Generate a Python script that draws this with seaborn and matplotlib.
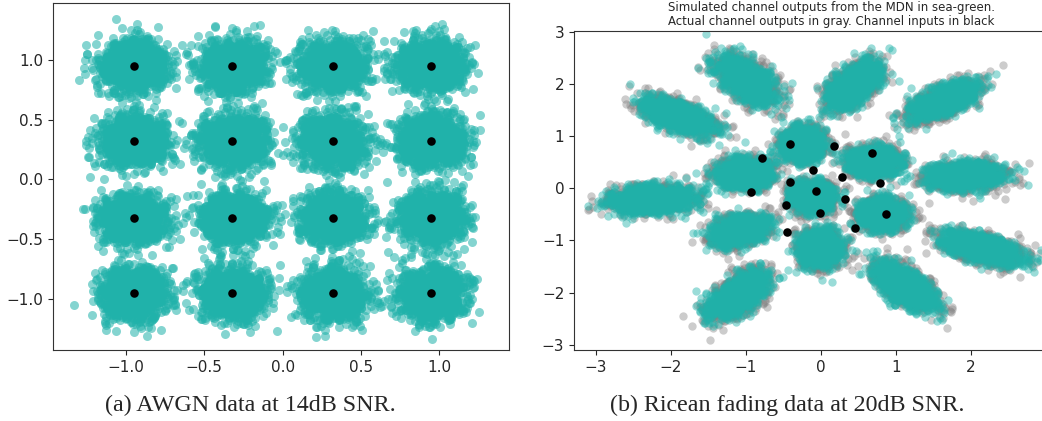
import numpy as np
import pandas as pd
import matplotlib
matplotlib.use("Agg")
import matplotlib.pyplot as plt
import seaborn as sns

sns.set_style("ticks")
plt.rcParams['font.family'] = ['DejaVu Sans']

# --- (a) AWGN, 16-QAM symbols and noise spread ---
qam_levels = [-0.95, -0.32, 0.32, 0.95]
awgn_sigma = 0.105
awgn_points_per_symbol = 1100

# --- (b) Ricean fading: channel inputs (black dots) ---
input_x = [-0.41, 0.18, -0.79, 0.68, -0.10, 0.28, -0.41, 0.79,
           -0.93, -0.06, 0.32, -0.47, -0.01, 0.87, -0.45, 0.45]
input_y = [0.85, 0.80, 0.57, 0.67, 0.35, 0.22, 0.12, 0.10,
           -0.08, -0.06, -0.20, -0.32, -0.47, -0.50, -0.84, -0.77]

# output clusters: centre, extent along major / minor axis, tilt (deg)
cluster_cx = [-2.24, -1.92, -0.99, 0.43, 1.65, 1.92, 2.14, 1.12, -1.10,
              -0.24, 0.70, -1.01, -0.12, 0.81, -1.10, -0.01]
cluster_cy = [-0.21, 1.40, 2.07, 1.98, 1.69, 0.24, -1.15, -1.87, -2.04,
              0.86, 0.51, 0.29, -0.16, -0.48, -0.80, -1.15]
cluster_major = [1.29, 1.22, 1.22, 1.17, 1.19, 1.11, 1.27, 1.22, 1.22,
                 0.72, 0.76, 0.80, 0.65, 0.72, 0.87, 0.80]
cluster_minor = [0.60, 0.56, 0.64, 0.60, 0.54, 0.60, 0.58, 0.60, 0.60,
                 0.62, 0.64, 0.64, 0.64, 0.64, 0.60, 0.62]
cluster_angle = [4, -32, -54, 58, 36, 4, -22, -49, 52,
                 90, 0, 5, 90, -5, 26, 90]
ricean_points_per_cluster = 1000

caption_a = "(a) AWGN data at 14dB SNR."
caption_b = "(b) Ricean fading data at 20dB SNR."
title_b = ("Simulated channel outputs from the MDN in sea-green.\n"
           "Actual channel outputs in gray. Channel inputs in black")

# noise clouds around the read-off centres (fixed seed)
rng = np.random.default_rng(3)

sym = [(x, y) for y in qam_levels[::-1] for x in qam_levels]
awgn = pd.DataFrame({
    'x': np.concatenate([np.full(awgn_points_per_symbol, sx) for sx, sy in sym]),
    'y': np.concatenate([np.full(awgn_points_per_symbol, sy) for sx, sy in sym]),
})
awgn['x'] += rng.normal(0, awgn_sigma, len(awgn))
awgn['y'] += rng.normal(0, awgn_sigma, len(awgn))
awgn_sym = pd.DataFrame({'x': [s[0] for s in sym], 'y': [s[1] for s in sym]})


def cloud(scale):
    xs, ys = [], []
    for cx, cy, ma, mi, ang in zip(cluster_cx, cluster_cy, cluster_major,
                                   cluster_minor, cluster_angle):
        u = rng.normal(0, ma / 4.8 * scale, ricean_points_per_cluster)
        v = rng.normal(0, mi / 4.8 * scale, ricean_points_per_cluster)
        t = np.deg2rad(ang)
        xs.append(cx + u * np.cos(t) - v * np.sin(t))
        ys.append(cy + u * np.sin(t) + v * np.cos(t))
    return pd.DataFrame({'x': np.concatenate(xs), 'y': np.concatenate(ys)})


actual = cloud(1.04)
simulated = cloud(1.0)
inputs = pd.DataFrame({'x': input_x, 'y': input_y})

fig = plt.figure(figsize=(10.42, 4.21), dpi=100)
W, H = 1042, 421
ax1 = fig.add_axes([53 / W, 1 - 350 / H, 456 / W, 347 / H])
ax2 = fig.add_axes([574 / W, 1 - 350 / H, 471 / W, 319 / H])

sns.scatterplot(data=awgn, x='x', y='y', ax=ax1, color='lightseagreen',
                alpha=0.55, s=42, linewidth=0)
sns.scatterplot(data=awgn_sym, x='x', y='y', ax=ax1, color='black',
                s=38, linewidth=0)
ax1.set_xlim(-1.467, 1.447)
ax1.set_ylim(-1.423, 1.473)
ax1.set_xticks([-1.0, -0.5, 0.0, 0.5, 1.0])
ax1.set_yticks([-1.0, -0.5, 0.0, 0.5, 1.0])

sns.scatterplot(data=actual, x='x', y='y', ax=ax2, color='gray',
                alpha=0.4, s=36, linewidth=0)
sns.scatterplot(data=simulated, x='x', y='y', ax=ax2, color='lightseagreen',
                alpha=0.45, s=36, linewidth=0)
sns.scatterplot(data=inputs, x='x', y='y', ax=ax2, color='black',
                s=38, linewidth=0)
ax2.set_xlim(-3.29, 2.99)
ax2.set_ylim(-3.1, 3.01)
ax2.set_xticks([-3, -2, -1, 0, 1, 2])
ax2.set_yticks([-3, -2, -1, 0, 1, 2, 3])
ax2.spines['right'].set_visible(False)

for ax in (ax1, ax2):
    ax.set_xlabel('')
    ax.set_ylabel('')
    ax.tick_params(labelsize=11, length=3.5, width=0.8)
    for sp in ax.spines.values():
        sp.set_linewidth(0.8)
        sp.set_color('#333333')

fig.text(831 / W, 1 - 14 / H, title_b, ha='center', va='center',
         fontsize=8.5, linespacing=1.1)
fig.text(250 / W, 1 - 405 / H, caption_a, ha='center', va='center',
         fontsize=17.3, family=['Liberation Serif'])
fig.text(787 / W, 1 - 405 / H, caption_b, ha='center', va='center',
         fontsize=17.3, family=['Liberation Serif'])

fig.savefig('out.png', dpi=100)
